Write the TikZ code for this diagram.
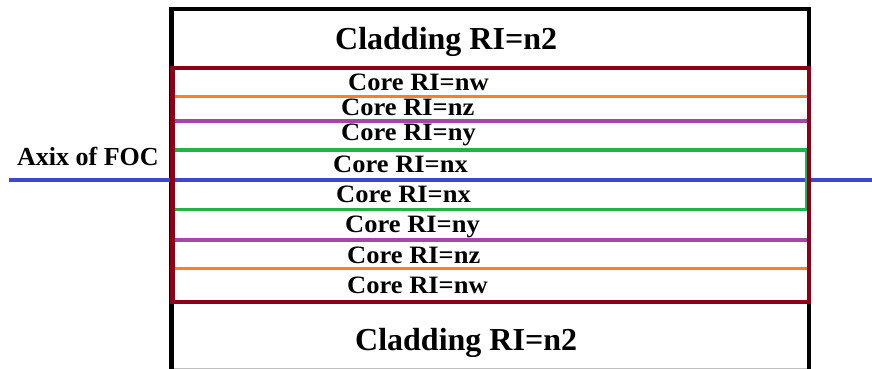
\documentclass[tikz,border=0pt]{standalone}
\usepackage{fontspec}
\setmainfont{Liberation Serif}
\definecolor{cladblack}{RGB}{0,0,0}
\definecolor{corered}{RGB}{139,0,22}
\definecolor{lineorange}{RGB}{255,127,39}
\definecolor{linepurple}{RGB}{163,73,164}
\definecolor{linegreen}{RGB}{34,177,76}
\definecolor{axisblue}{RGB}{63,72,204}
\tikzset{
  cladtext/.style={anchor=base west, inner sep=0pt, font=\bfseries\fontsize{32}{36}\selectfont},
  coretext/.style={anchor=base west, inner sep=0pt, xscale=1.06, font=\bfseries\fontsize{25}{29}\selectfont},
  axistext/.style={anchor=base west, inner sep=0pt, font=\bfseries\fontsize{26}{30}\selectfont},
  cladline/.style={draw=cladblack, line width=4.5pt},
  coreline/.style={draw=corered, line width=4.5pt},
  orangeline/.style={draw=lineorange, line width=3.5pt},
  purpleline/.style={draw=linepurple, line width=3.5pt},
  greenline/.style={draw=linegreen, line width=3.5pt},
  axisline/.style={draw=axisblue, line width=4pt},
}
\begin{document}
\begin{tikzpicture}[x=1pt,y=-1pt]
\useasboundingbox (0,0) rectangle (872,369);
% cladding outline
\draw[gray!50, line width=1pt] (171,368) -- (809,368);
\draw[cladline] (171.5,369) -- (171.5,9) -- (809,9) -- (809,369);
% axis
\coordinate (axL) at (9,180);
\coordinate (axR) at (872,180);
\draw[axisline] (axL) -- (axR);
% green box
\draw[greenline] (173.5,150) rectangle (806.7,209.5);
% orange / purple layers
\draw[orangeline] (174,96.5) -- (807,96.5);
\draw[purpleline] (174,121) -- (807,121);
\draw[purpleline] (174,240) -- (807,240);
\draw[orangeline] (174,268.5) -- (807,268.5);
% core box
\draw[coreline] (172.5,68) rectangle (809,302);
% texts
\node[cladtext] (cladtop) at (335,49) {Cladding RI=n2};
\node[coretext] (c1) at (348,90) {Core RI=nw};
\node[coretext] (c2) at (341,115) {Core RI=nz};
\node[coretext] (c3) at (341,140.7) {Core RI=ny};
\node[coretext] (c4) at (333,172) {Core RI=nx};
\node[coretext] (c5) at (336,202) {Core RI=nx};
\node[coretext] (c6) at (345,232) {Core RI=ny};
\node[coretext] (c7) at (347,263) {Core RI=nz};
\node[coretext] (c8) at (347,293) {Core RI=nw};
\node[cladtext] (cladbot) at (355,350) {Cladding RI=n2};
\node[axistext] (axis) at (17,165) {Axix of FOC};
\end{tikzpicture}
\end{document}
